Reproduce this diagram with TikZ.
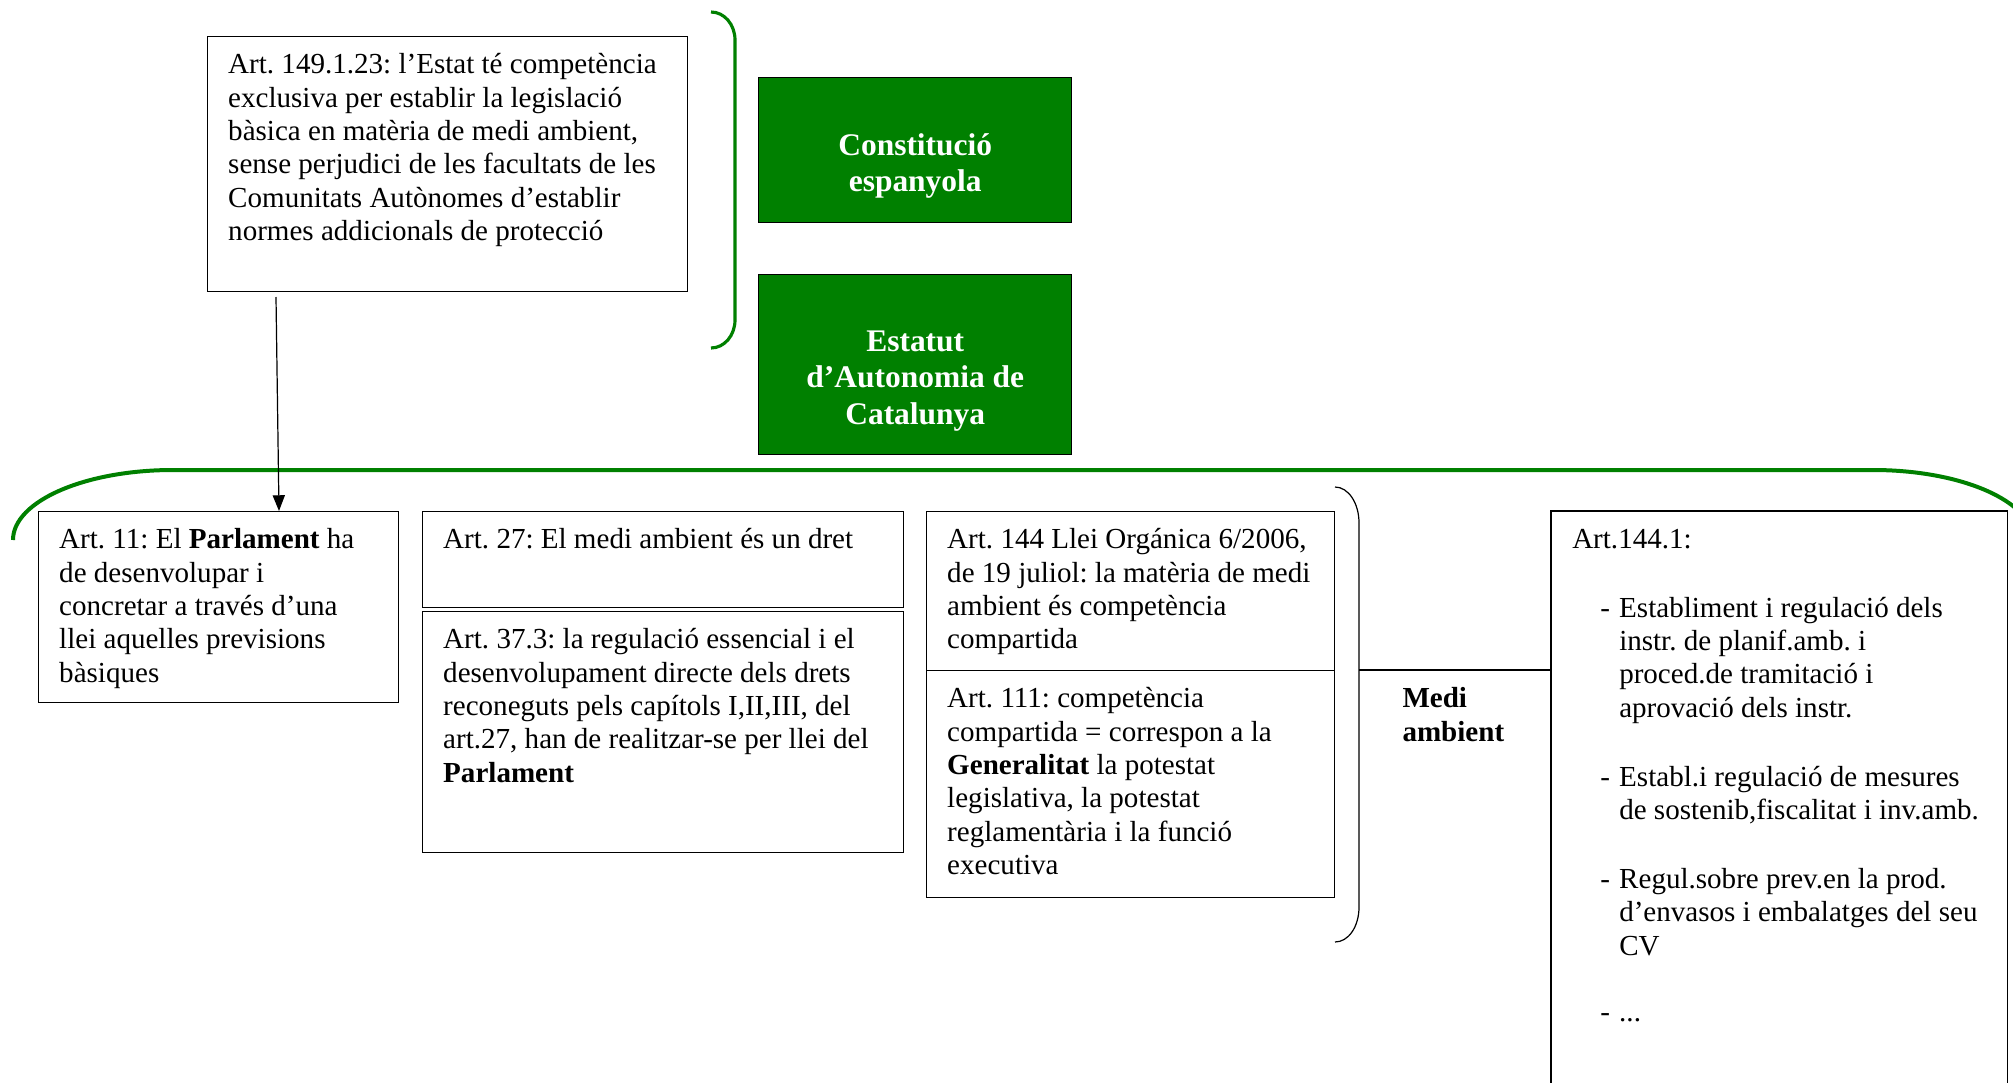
\documentclass[tikz,border=0pt]{standalone}
\usepackage{fontspec}
\setmainfont{Liberation Serif}
\usetikzlibrary{arrows.meta}
\definecolor{wordgreen}{RGB}{0,128,0}
\frenchspacing
\newdimen\pxl \pxl=0.413pt
\newcommand{\boxtext}[3]{\parbox[t][#2\pxl][t]{#1\pxl}{\raggedright\rule{0pt}{37\pxl}#3}}
\newcommand{\itm}{\hspace*{28\pxl}\makebox[19\pxl][l]{-}}
\newcommand{\ind}{\hspace*{47\pxl}}
\begin{document}
\begin{tikzpicture}[x={(0.413pt,0)},y={(0,-0.413pt)},
  box/.style={draw,line width=0.6pt,anchor=north west,inner xsep=8.47pt,inner ysep=0pt,font=\fontsize{12}{13.8}\selectfont},
  gbox/.style={draw,fill=wordgreen,text=white,line width=0.6pt,anchor=north west,inner xsep=8.47pt,inner ysep=0pt,font=\fontsize{13}{14.95}\selectfont\bfseries},
  gline/.style={wordgreen,line width=1.3pt}]
\useasboundingbox (0,0) rectangle (2013,1082);
% upper part
\node[box] (art149) at (207,36) {\boxtext{439}{255}{Art. 149.1.23: l’Estat té competència\\exclusiva per establir la legislació\\bàsica en matèria de medi ambient,\\sense perjudici de les facultats de les\\Comunitats Autònomes d’establir\\normes addicionals de protecció}};
\node[gbox] (const) at (758,77) {\parbox[t][145\pxl][t]{272\pxl}{\centering\rule{0pt}{78\pxl}Constitució\\espanyola}};
\node[gbox] (estat) at (758,274) {\parbox[t][180\pxl][t]{272\pxl}{\centering\rule{0pt}{77\pxl}Estatut\\d’Autonomia de\\Catalunya}};
\draw[gline] (711,12) .. controls (724.3,12) and (735,24.5) .. (735,40) -- (735,320) .. controls (735,335.5) and (724.3,348) .. (711,348);
\draw[gline,line width=1.65pt] (13,540) .. controls (13,501.3) and (84.6,470) .. (173,470) -- (1873,470) .. controls (1961.4,470) and (2033,501.3) .. (2033,540);
% lower part
\node[box] (art11) at (38,511) {\boxtext{319}{191}{Art. 11: El \textbf{Parlament} ha\\de desenvolupar i\\concretar a través d’una\\llei aquelles previsions\\bàsiques}};
\node[box] (art27) at (422,511) {\boxtext{440}{96}{Art. 27: El medi ambient és un dret}};
\node[box] (art37) at (422,611) {\boxtext{440}{241}{Art. 37.3: la regulació essencial i el\\desenvolupament directe dels drets\\reconeguts pels capítols I,II,III, del\\art.27, han de realitzar-se per llei del\\\textbf{Parlament}}};
\node[box] (art144) at (926,511) {\boxtext{367}{159}{Art. 144 Llei Orgánica 6/2006,\\de 19 juliol: la matèria de medi\\ambient és competència\\compartida}};
\node[box] (art111) at (926,670) {\boxtext{367}{227}{Art. 111: competència\\compartida = correspon a la\\\textbf{Generalitat} la potestat\\legislativa, la potestat\\reglamentària i la funció\\executiva}};
\node[box,draw=none] (art1441) at (1551,511) {\boxtext{414}{600}{Art.144.1:\\[14.4pt]
  \itm Establiment i regulació dels\\\ind instr. de planif.amb. i\\\ind proced.de tramitació i\\\ind aprovació dels instr.\\[14.6pt]
  \itm Establ.i regulació de mesures\\\ind de sostenib,fiscalitat i inv.amb.\\[14.6pt]
  \itm Regul.sobre prev.en la prod.\\\ind d’envasos i embalatges del seu\\\ind CV\\[13.6pt]
  \itm ...}};
\draw[line width=0.6pt] (art1441.south west) -- (art1441.north west) -- (art1441.north east) -- (art1441.south east);
\node[font=\fontsize{12}{13.8}\selectfont\bfseries,anchor=base west,align=left,inner sep=0pt] (medi) at (1402,741) {Medi\\ambient};
\draw[line width=0.5pt] (1335,487) .. controls (1348.3,487) and (1359,503) .. (1359,523) -- (1359,907) .. controls (1359,926.9) and (1348.3,942) .. (1335,942);
\coordinate (brace) at (1359,670);
\draw[line width=0.6pt] (brace) -- (brace -| art1441.west);
%
\coordinate (arrstart) at (276,297);
\coordinate (arrend) at (279,511);
\draw[-{Triangle[width=5pt,length=6.5pt]},line width=0.5pt] (arrstart) -- (arrend);
\end{tikzpicture}
\end{document}
